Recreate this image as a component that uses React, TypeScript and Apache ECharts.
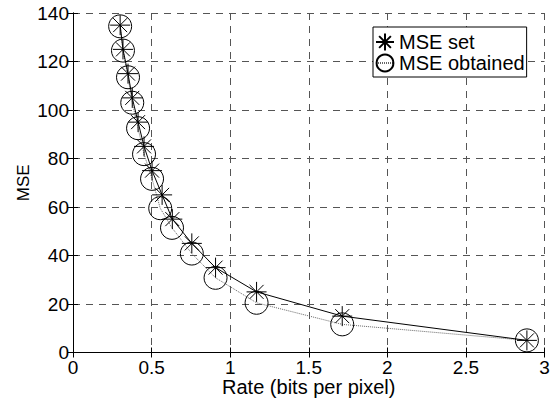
import React, { useEffect, useRef } from "react";
import * as echarts from "echarts";

const rateSet = [0.300, 0.318, 0.350, 0.377, 0.414, 0.452, 0.503, 0.567, 0.632, 0.756, 0.907, 1.168, 1.713, 2.888];
const mseSet = [135, 125, 115, 105, 95, 85, 75, 65, 55, 45, 35, 25, 15, 5];
const rateObtained = [0.300, 0.318, 0.350, 0.377, 0.414, 0.452, 0.503, 0.555, 0.630, 0.756, 0.907, 1.168, 1.713, 2.888];
const mseObtained = [134.5, 124.5, 113.5, 103, 92.5, 81.8, 71.6, 59.5, 51.4, 40.8, 30.8, 20.5, 11.6, 5.0];

const xTicks = { min: 0, max: 3, interval: 0.5 };
const yTicks = { min: 0, max: 140, interval: 20 };

const FONT = "'Liberation Sans', Arial, sans-serif";
const ASTERISK = "path://M10,0 L10,20 M0,10 L20,10 M3,3 L17,17 M3,17 L17,3";

export default function App() {
  const ref = useRef<HTMLDivElement>(null);
  useEffect(() => {
    if (!ref.current) return;
    const chart = echarts.init(ref.current, null, { renderer: "svg" });
    const dash = { type: [7, 6] as any, color: "#555", width: 1 };
    const tickStyle = { inside: true, length: 5, lineStyle: { color: "#000" } };
    chart.setOption({
      animation: false,
      backgroundColor: "#fff",
      textStyle: { fontFamily: FONT },
      grid: {
        left: 73,
        top: 13,
        width: 471.5,
        height: 339.5,
        containLabel: false,
        outerBoundsMode: "none",
      },
      legend: {
        orient: "vertical",
        left: 373,
        top: 27,
        itemWidth: 18,
        itemHeight: 21,
        itemGap: 1,
        padding: [5, 2, 4, 2],
        borderColor: "#000",
        borderWidth: 1,
        backgroundColor: "#fff",
        textStyle: { fontSize: 20, color: "#000", fontFamily: FONT },
        data: ["MSE set", "MSE obtained"],
      },
      xAxis: [
        {
          type: "value",
          ...xTicks,
          name: "Rate (bits per pixel)",
          nameLocation: "middle",
          nameGap: 24,
          nameMoveOverlap: false,
          nameTextStyle: { fontSize: 20, color: "#000", fontFamily: FONT },
          axisLine: { lineStyle: { color: "#000", width: 1 } },
          axisTick: tickStyle,
          axisLabel: { fontSize: 19, color: "#000", margin: 5, fontFamily: FONT },
          splitLine: { show: true, lineStyle: dash },
        },
        {
          type: "value",
          position: "top",
          ...xTicks,
          axisLine: { lineStyle: { color: "#000", width: 1 } },
          axisTick: tickStyle,
          axisLabel: { show: false },
          splitLine: { show: false },
        },
      ],
      yAxis: [
        {
          type: "value",
          ...yTicks,
          name: "MSE",
          nameLocation: "middle",
          nameGap: 41,
          nameMoveOverlap: false,
          nameTextStyle: { fontSize: 17, color: "#000", fontFamily: FONT },
          axisLine: { show: true, lineStyle: { color: "#000", width: 1 } },
          axisTick: { show: true, ...tickStyle },
          axisLabel: { fontSize: 19, color: "#000", margin: 4, padding: [4, 0, 0, 0], fontFamily: FONT },
          splitLine: { show: true, lineStyle: dash },
        },
        {
          type: "value",
          position: "right",
          ...yTicks,
          axisLine: { show: true, lineStyle: { color: "#000", width: 1 } },
          axisTick: { show: true, ...tickStyle },
          axisLabel: { show: false },
          splitLine: { show: false },
        },
      ],
      series: [
        {
          name: "MSE set",
          type: "line",
          data: rateSet.map((r, i) => [r, mseSet[i]]),
          symbol: ASTERISK,
          symbolSize: 20,
          showAllSymbol: true,
          lineStyle: { color: "#000", width: 1 },
          itemStyle: { color: "rgba(0,0,0,0)", borderColor: "#000", borderWidth: 1 },
          emphasis: { disabled: true },
          z: 3,
        },
        {
          name: "MSE obtained",
          type: "line",
          data: rateObtained.map((r, i) => [r, mseObtained[i]]),
          symbol: "circle",
          symbolSize: 23,
          showAllSymbol: true,
          lineStyle: { color: "#666", width: 1, type: [1, 1] as any },
          itemStyle: { color: "rgba(0,0,0,0)", borderColor: "#000", borderWidth: 1 },
          emphasis: { disabled: true },
          z: 2,
        },
      ],
    });
    return () => chart.dispose();
  }, []);
  return <div ref={ref} style={{ width: 550, height: 399, position: "absolute", left: 0, top: 0 }} />;
}
